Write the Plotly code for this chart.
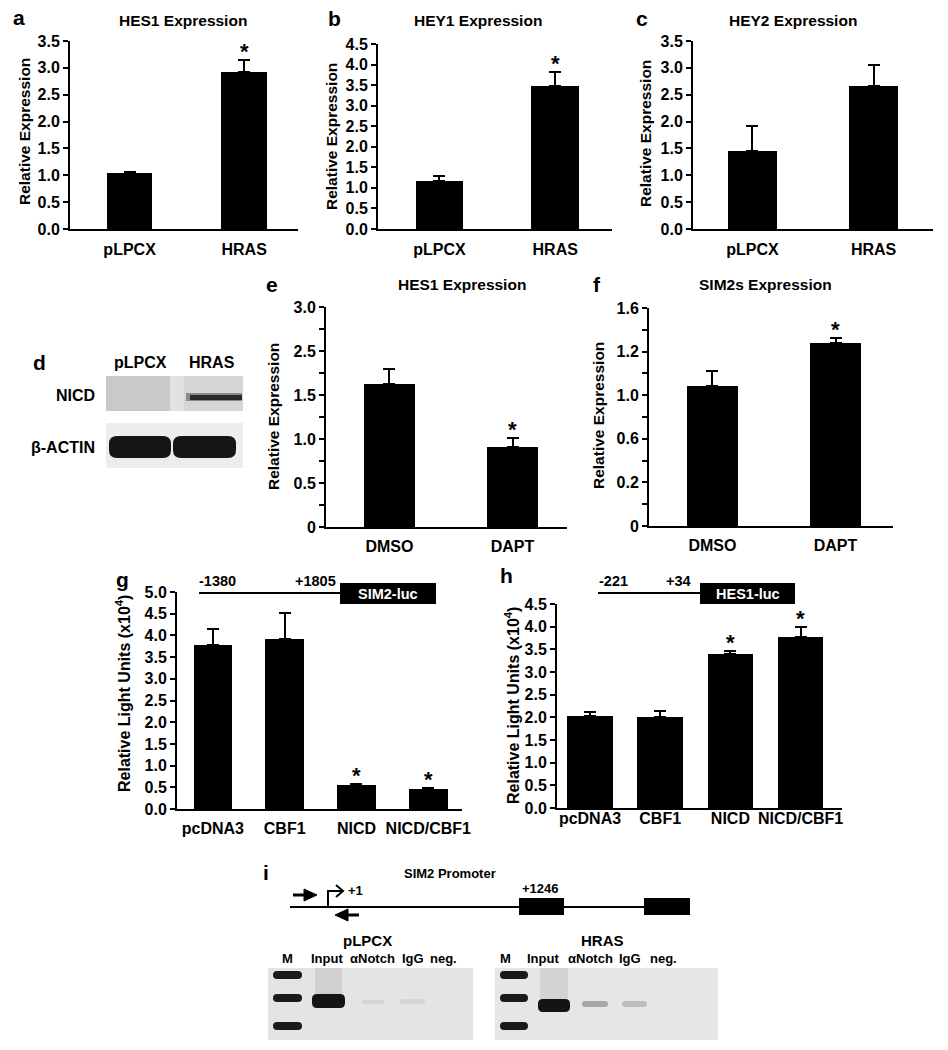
import plotly.graph_objects as go

W, H = 948, 1050
FONT = "Liberation Sans"

# ---------------- data ----------------
a_cats = ["pLPCX", "HRAS"]
a_vals = [1.04, 2.92]
a_err = [1.06, 3.15]
a_star = [False, True]

b_cats = ["pLPCX", "HRAS"]
b_vals = [1.17, 3.48]
b_err = [1.29, 3.82]
b_star = [False, True]

c_cats = ["pLPCX", "HRAS"]
c_vals = [1.45, 2.66]
c_err = [1.92, 3.05]
c_star = [False, False]

e_cats = ["DMSO", "DAPT"]
e_vals = [1.625, 0.91]
e_err = [1.795, 1.01]
e_star = [False, True]
e_tickvals = [0, 0.5, 1.0, 1.5, 2.0, 2.5]
e_ticktext = ["0", "0.5", "1.0", "1.5", "2.5", "3.0"]

f_cats = ["DMSO", "DAPT"]
f_vals = [1.03, 1.34]
f_err = [1.14, 1.38]
f_star = [False, True]
f_tickvals = [0, 0.32, 0.64, 0.96, 1.28, 1.6]
f_ticktext = ["0", "0.2", "0.6", "1.0", "1.2", "1.6"]

g_cats = ["pcDNA3", "CBF1", "NICD", "NICD/CBF1"]
g_vals = [3.78, 3.92, 0.55, 0.46]
g_err = [4.15, 4.52, 0.57, 0.48]
g_star = [False, False, True, True]

h_cats = ["pcDNA3", "CBF1", "NICD", "NICD/CBF1"]
h_vals = [2.03, 2.01, 3.40, 3.77]
h_err = [2.12, 2.14, 3.47, 3.99]
h_star = [False, False, True, True]


def X(px):
    return px / W


def Y(py):
    return 1 - py / H


fig = go.Figure()
shapes = []
annots = []

TICKSIZE = 16

panels = [
    ("a", a_cats, a_vals, a_err, a_star, (70, 298), (41, 229), [0, 3.5], [-0.52, 1.47], 0.4, None, None, 5),
    ("b", b_cats, b_vals, b_err, b_star, (378, 612), (44, 229), [0, 4.5], [-0.53, 1.49], 0.41, None, None, 5),
    ("c", c_cats, c_vals, c_err, c_star, (693, 933), (41, 229), [0, 3.5], [-0.49, 1.49], 0.41, None, None, 5),
    ("e", e_cats, e_vals, e_err, e_star, (326, 567), (307, 527), [0, 2.5], [-0.516, 1.443], 0.415, e_tickvals, e_ticktext, 4),
    ("f", f_cats, f_vals, f_err, f_star, (649, 893), (308, 526), [0, 1.6], [-0.516, 1.467], 0.415, f_tickvals, f_ticktext, 4),
    ("g", g_cats, g_vals, g_err, g_star, (177, 462), (592, 809), [0, 5.0], [-0.5, 3.47], 0.54, None, None, 4),
    ("h", h_cats, h_vals, h_err, h_star, (557, 842), (604, 808), [0, 4.5], [-0.47, 3.59], 0.65, None, None, -5),
]

layout_axes = {}
for i, (key, cats, vals, err, star, xd, yd, yr, xr, bw, tv, tt, stand) in enumerate(panels):
    n = i + 1
    xa = "x" if n == 1 else f"x{n}"
    ya = "y" if n == 1 else f"y{n}"
    fig.add_trace(go.Bar(
        x=list(range(len(cats))), y=vals, width=bw,
        marker=dict(color="black", line=dict(width=0)),
        error_y=dict(type="data", symmetric=False,
                     array=[e - v for e, v in zip(err, vals)],
                     arrayminus=[0] * len(vals),
                     color="black", thickness=2, width=6),
        xaxis=xa, yaxis=ya, showlegend=False, hoverinfo="skip",
    ))
    xkey = "xaxis" if n == 1 else f"xaxis{n}"
    ykey = "yaxis" if n == 1 else f"yaxis{n}"
    layout_axes[xkey] = dict(
        domain=[X(xd[0]), X(xd[1])], anchor=ya, range=xr,
        tickmode="array", tickvals=list(range(len(cats))), ticktext=cats,
        showline=True, linewidth=2, linecolor="black", ticks="",
        showgrid=False, zeroline=False, ticklabelstandoff=stand,
        tickfont=dict(family=FONT, size=TICKSIZE, color="black", weight="bold"),
    )
    yd_ = dict(
        domain=[Y(yd[1]), Y(yd[0])], anchor=xa, range=yr,
        showline=True, linewidth=2, linecolor="black",
        ticks="outside", ticklen=5, tickwidth=1.5, tickcolor="black",
        showgrid=False, zeroline=False,
        tickfont=dict(family=FONT, size=TICKSIZE, color="black", weight="bold"),
    )
    if tv is not None:
        yd_.update(tickmode="array", tickvals=tv, ticktext=tt)
        yd_["minor"] = dict(ticks="outside", ticklen=5, tickwidth=1.5,
                            tickcolor="black", tickvals=[(tv[k] + tv[k + 1]) / 2 for k in range(len(tv) - 1)])
    else:
        yd_.update(dtick=0.5, tickformat=".1f")
    layout_axes[ykey] = yd_
    for j, s in enumerate(star):
        if s:
            annots.append(dict(x=j, y=err[j], xref=xa, yref=ya, text="*", showarrow=False,
                               yanchor="bottom", yshift=-6,
                               font=dict(family=FONT, size=22, color="black", weight="bold")))


def txt(x, y, t, size=14, anchor="center", color="black", angle=0):
    annots.append(dict(x=X(x), y=Y(y), xref="paper", yref="paper", text=t,
                       showarrow=False, xanchor=anchor, yanchor="middle", textangle=angle,
                       font=dict(family=FONT, size=size, color=color, weight="bold")))


def rect(x0, y0, x1, y1, fill, lw=0, lc="black", opacity=1):
    shapes.append(dict(type="rect", xref="paper", yref="paper",
                       x0=X(x0), x1=X(x1), y0=Y(y1), y1=Y(y0),
                       fillcolor=fill, opacity=opacity,
                       line=dict(width=lw, color=lc)))


def line(x0, y0, x1, y1, w=2, c="black"):
    shapes.append(dict(type="line", xref="paper", yref="paper",
                       x0=X(x0), x1=X(x1), y0=Y(y0), y1=Y(y1),
                       line=dict(width=w, color=c)))


def path(pts, fill=None, w=2, c="black", close=True):
    d = "M " + " L ".join(f"{X(px):.5f},{Y(py):.5f}" for px, py in pts)
    if close:
        d += " Z"
    shapes.append(dict(type="path", xref="paper", yref="paper", path=d,
                       fillcolor=fill if fill else "rgba(0,0,0,0)",
                       line=dict(width=w, color=c)))


def rrect(x0, y0, x1, y1, r, fill, opacity=1):
    def P(px, py):
        return f"{X(px):.5f},{Y(py):.5f}"
    d = (f"M {P(x0 + r, y0)} L {P(x1 - r, y0)} Q {P(x1, y0)} {P(x1, y0 + r)} "
         f"L {P(x1, y1 - r)} Q {P(x1, y1)} {P(x1 - r, y1)} L {P(x0 + r, y1)} "
         f"Q {P(x0, y1)} {P(x0, y1 - r)} L {P(x0, y0 + r)} Q {P(x0, y0)} {P(x0 + r, y0)} Z")
    shapes.append(dict(type="path", xref="paper", yref="paper", path=d,
                       fillcolor=fill, opacity=opacity, line=dict(width=0)))


# panel letters and titles
for L, x, y in [("a", 19, 18), ("b", 334, 19), ("c", 642, 19), ("d", 39, 362),
                ("e", 272, 285), ("f", 597, 285), ("g", 122, 579), ("h", 507, 575), ("i", 266, 872)]:
    txt(x, y, L, size=21)
for t, x, y in [("HES1 Expression", 183, 20), ("HEY1 Expression", 478, 20), ("HEY2 Expression", 793, 20),
                ("HES1 Expression", 462, 285), ("SIM2s Expression", 765, 285)]:
    txt(x, y, t, size=15.5)

for t, x, y, s in [("Relative Expression", 25, 132, 15.5), ("Relative Expression", 332, 137, 15.5),
                   ("Relative Expression", 645, 134, 15.5), ("Relative Expression", 273, 417, 15.5),
                   ("Relative Expression", 598, 416, 15.5),
                   ("Relative Light Units (x10<sup>4</sup>)", 123, 694, 16),
                   ("Relative Light Units (x10<sup>4</sup>)", 512, 705, 16)]:
    txt(x, y, t, size=s, angle=-90)

# ---------- panel d: western blot ----------
txt(140, 362, "pLPCX", 16)
txt(212, 362, "HRAS", 16)
txt(97, 395, "NICD", 16, anchor="right")
txt(97, 447, "β-ACTIN", 16, anchor="right")
rect(106, 376, 243, 411, "#d2d2d2")
rect(106, 376, 176, 411, "#c9c9c9")
rect(170, 376, 184, 411, "#e2e2e2")
rect(184, 376, 243, 411, "#d6d6d6")
rect(186, 393, 242, 401, "#8a8a8a")
rect(190, 395, 242, 400, "#2a2a2a")
rect(106, 423, 243, 468, "#ededed")
rrect(109, 436, 171, 458, 8, "#151515")
rrect(173, 436, 236, 458, 8, "#151515")

# ---------- panel g / h promoter diagrams ----------
line(199, 593, 340, 593)
rect(340, 583, 436, 604, "black")
txt(388, 594, "SIM2-luc", 14.5, color="white")
txt(217, 581, "-1380", 14.5)
txt(315, 581, "+1805", 14.5)

line(598, 593, 700, 593)
rect(700, 583, 795, 604, "black")
txt(748, 594, "HES1-luc", 14.5, color="white")
txt(613, 581, "-221", 14.5)
txt(678, 581, "+34", 14.5)

# ---------- panel i ----------
txt(450, 873, "SIM2 Promoter", 13)
line(290, 907, 690, 907)
rect(519, 898, 564, 915, "black")
rect(644, 898, 690, 915, "black")
txt(540, 888, "+1246", 13)
line(293, 895, 306, 895, w=3)
path([(304, 889), (317, 895), (304, 901)], fill="black", w=1)
path([(328, 907), (328, 891), (342, 891)], close=False, w=2)
path([(336, 885), (343, 891), (336, 897)], close=False, w=2)
txt(355, 890, "+1", 13)
line(346, 915, 359, 915, w=3)
path([(348, 909), (335, 915), (348, 921)], fill="black", w=1)

txt(367, 940, "pLPCX", 15)
txt(602, 940, "HRAS", 15)
for t, x in [("M", 287), ("Input", 327), ("αNotch", 372), ("IgG", 413), ("neg.", 443),
             ("M", 505), ("Input", 543), ("αNotch", 590), ("IgG", 630), ("neg.", 663)]:
    txt(x, 958, t, 13)

rect(268, 968, 473, 1040, "#e4e4e4")
rect(495, 968, 718, 1040, "#e6e6e6")
for yc in (975, 998, 1026):
    rrect(273, yc - 4, 302, yc + 4, 4, "#1a1a1a")
    rrect(500, yc - 4, 528, yc + 4, 4, "#1a1a1a")
rect(315, 968, 342, 994, "#d0d0d0")
rrect(312, 994, 345, 1008, 5, "#141414")
rect(540, 968, 568, 999, "#d4d4d4")
rrect(538, 999, 570, 1012, 5, "#141414")
rrect(582, 1001, 608, 1007, 3, "#a8a8a8")
rrect(622, 1001, 647, 1007, 3, "#bdbdbd")
rrect(362, 1000, 385, 1004, 2, "#d6d6d6")
rrect(400, 999, 425, 1004, 2, "#d6d6d6")

fig.update_layout(
    width=W, height=H, margin=dict(l=0, r=0, t=0, b=0, autoexpand=False),
    paper_bgcolor="white", plot_bgcolor="rgba(0,0,0,0)",
    shapes=shapes, annotations=annots, bargap=0,
    **layout_axes,
)

fig.write_html("out.html", config={"displayModeBar": False},
               post_script="document.body.style.margin='0';document.body.style.overflow='hidden';")
